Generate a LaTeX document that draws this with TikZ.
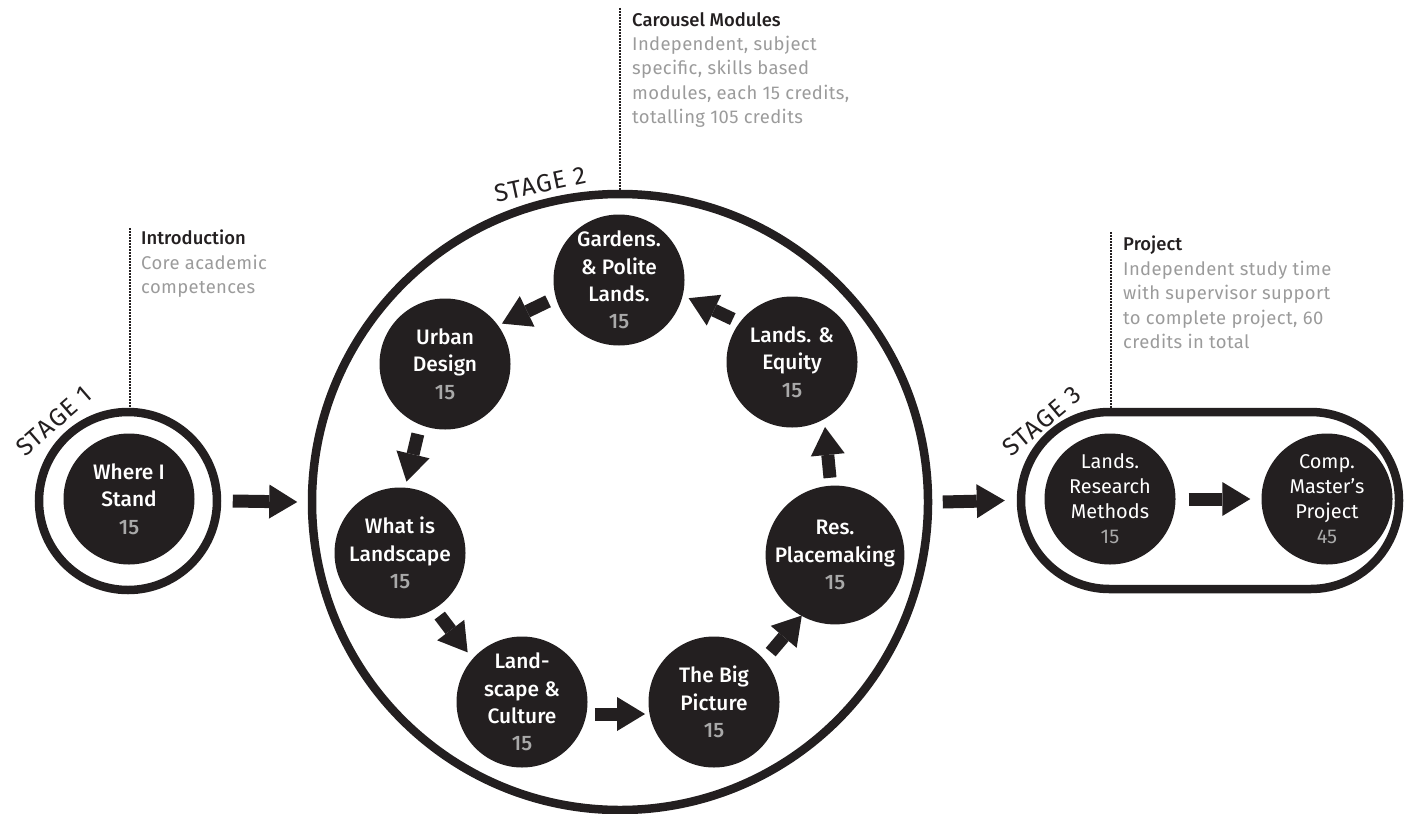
\documentclass[tikz,border=0pt]{standalone}
\usepackage{fontspec}
\setmainfont{Fira Sans}
\newfontfamily\medfont{Fira Sans Medium}
\newfontfamily\stagefont[LetterSpace=5]{Fira Sans}
\newfontfamily\descfont[LetterSpace=2]{Fira Sans}
\usetikzlibrary{arrows.meta,calc}
\definecolor{ink}{HTML}{231F20}
\definecolor{greytxt}{HTML}{9B9B9B}
\definecolor{numgrey}{HTML}{A9A9A9}
\newcommand\crednum[1]{\textcolor{numgrey}{#1}}
\begin{document}
\begin{tikzpicture}[x=1bp,y=-1bp,
  module/.style={circle, fill=ink, minimum size=131bp, inner sep=0pt, text=white, align=center,
    font=\medfont\fontsize{21}{27.5}\selectfont},
  moduleb/.style={module, font=\fontsize{20}{25}\selectfont},
  ring/.style={draw=ink, line width=8.5bp, circle, inner sep=0pt},
  blk/.style={draw=ink, line width=13bp, -{Triangle[width=34bp,length=28bp,line width=0pt]}},
  leader/.style={draw=ink, line width=1.8bp, dash pattern=on 1.6bp off 1.4bp},
  head/.style={font=\descfont\fontsize{18.5}{24.5}\selectfont, text=greytxt, align=left, anchor=north west, inner sep=0pt},
  stagelbl/.style={font=\stagefont\fontsize{25}{25}\selectfont, text=ink, inner sep=0pt}
]
\useasboundingbox (0,0) rectangle (1404,813);

% stage containers
\node[ring, minimum size=178bp] (s1) at (128,501) {};
\node[ring, minimum size=616bp] (s2) at (620,502) {};
\node[draw=ink, line width=8.5bp, rectangle, rounded corners=88.4bp, inner sep=0pt,
      minimum width=378bp, minimum height=177bp] (s3) at (1210,500.5) {};

% stage labels
\node[stagelbl, rotate=41] (l1) at (54,421) {STAGE 1};
\node[stagelbl, rotate=12] (l2) at (540,184) {STAGE 2};
\node[stagelbl, rotate=40] (l3) at (1042,421) {STAGE 3};

% modules
\node[module] (w1) at (129,499) {Where I\\Stand\\\crednum{15}};
\node[module] (g) at (619,280) {Gardens.\\\& Polite\\Lands.\\\crednum{15}};
\node[module] (u) at (445,364) {Urban\\Design\\\crednum{15}};
\node[module] (w) at (400,553) {What is\\Landscape\\\crednum{15}};
\node[module] (l) at (522,702) {Land-\\scape \&\\Culture\\\crednum{15}};
\node[module] (b) at (714,702) {The Big\\Picture\\\crednum{15}};
\node[module] (r) at (835,555) {Res.\\Placemaking\\\crednum{15}};
\node[module] (e) at (792,362) {Lands. \&\\Equity\\\crednum{15}};
\node[moduleb] (m1) at (1110,499) {Lands.\\Research\\Methods\\\crednum{15}};
\node[moduleb] (m2) at (1327,499) {Comp.\\Master's\\Project\\\crednum{45}};

% annotations
\node[head] (t1) at (141,230) {\textcolor{ink}{\medfont Introduction}\\Core academic\\competences};
\node[head] (t2) at (632,12) {\textcolor{ink}{\medfont Carousel Modules}\\Independent, subject\\specific, skills based\\modules, each 15 credits,\\totalling 105 credits};
\node[head] (t3) at (1123,236) {\textcolor{ink}{\medfont Project}\\Independent study time\\with supervisor support\\to complete project, 60\\credits in total};

\coordinate (d1) at (130,228);
\coordinate (d2) at (620,8);
\coordinate (d3) at (1111,232);
\draw[leader] (d1) -- (d1 |- s1.north);
\draw[leader] (d2) -- (d2 |- s2.north);
\draw[leader] (d3) -- (d3 |- s3.north);

% stage arrows
\draw[blk] ([xshift=11.5bp]s1.east) -- ([xshift=-10.5bp]s2.west);
\draw[blk] ([xshift=10.5bp]s2.east) -- ([xshift=-12bp]s3.west);
\draw[blk] ([xshift=13bp]m1.east) -- ([xshift=-11bp]m2.west);

% carousel arrows
\draw[blk] ($(g)!0.379!(u)+(-5,-10.5)$) -- ($(g)!0.644!(u)+(-5,-10.5)$);
\draw[blk] ($(u)!0.381!(w)+(-10,-2)$) -- ($(u)!0.633!(w)+(-10,-2)$);
\draw[blk] ($(w)!0.383!(l)+(-7,5.5)$) -- ($(w)!0.62!(l)+(-8,7)$);
\draw[blk] ($(l)!0.38!(b)+(0,12)$) -- ($(l)!0.641!(b)+(0,12)$);
\draw[blk] ($(b)!0.39!(r)+(9.5,7.5)$) -- ($(b)!0.643!(r)+(10,8)$);
\draw[blk] ($(r)!0.386!(e)+(11.6,-2.7)$) -- ($(r)!0.627!(e)+(17,-7)$);
\draw[blk] ($(e)!0.377!(g)+(6,-12)$) -- ($(e)!0.632!(g)+(6,-12)$);
\end{tikzpicture}
\end{document}
